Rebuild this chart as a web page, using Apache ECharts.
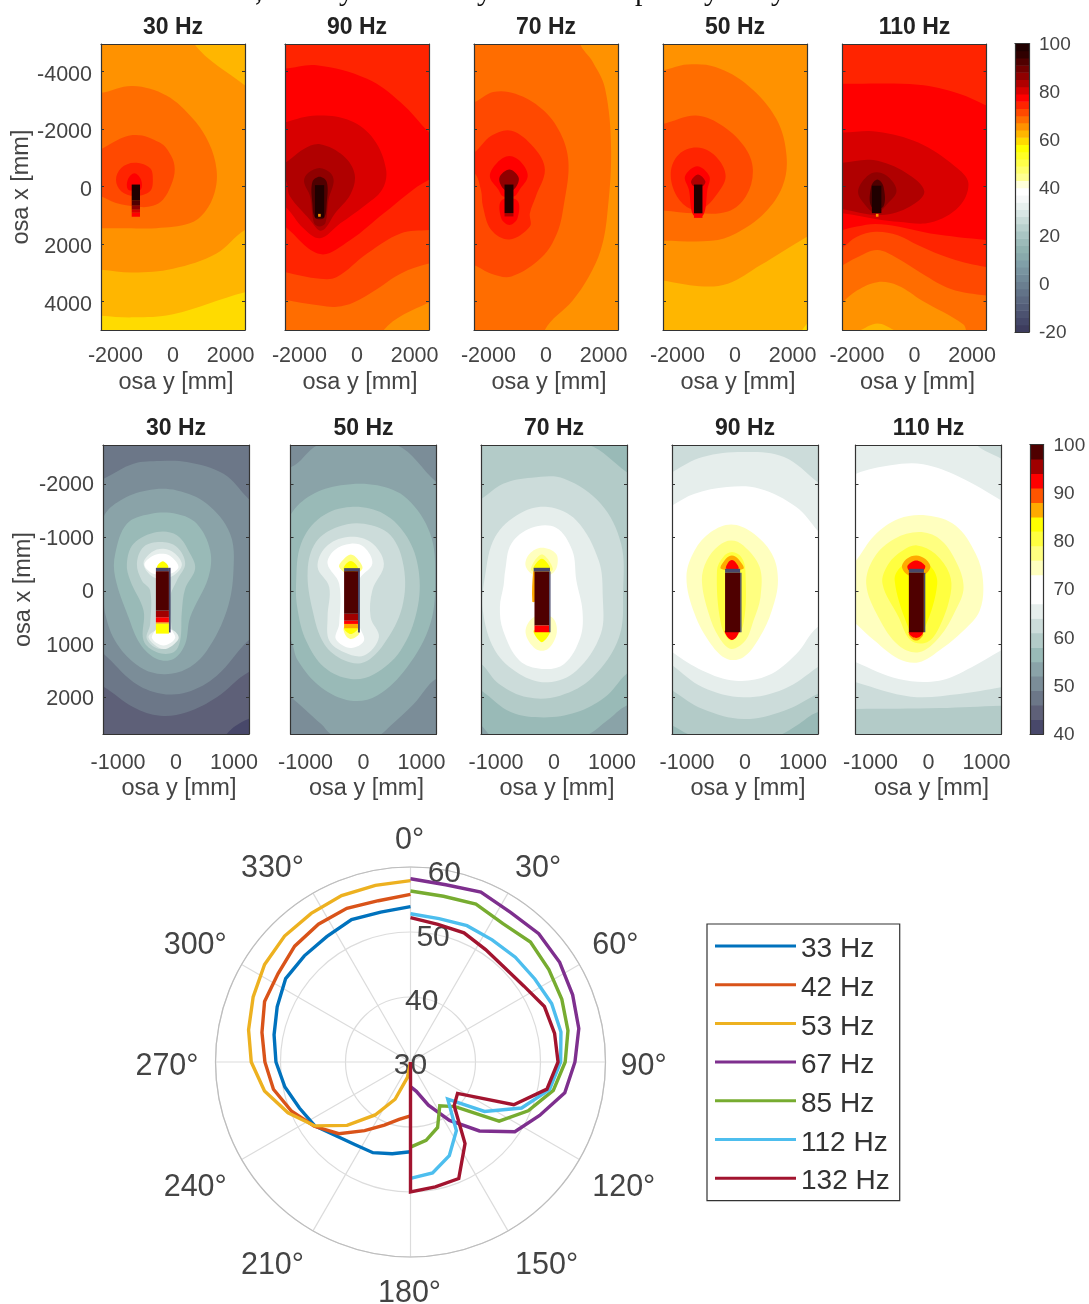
<!DOCTYPE html>
<html><head><meta charset="utf-8">
<script src="https://cdn.jsdelivr.net/npm/echarts@6/dist/echarts.min.js"></script>
<style>html,body{margin:0;padding:0;background:#fff}#c{width:1089px;height:1304px;filter:blur(0.45px)}</style>
</head><body><div id="c"></div>
<script>
// ---------- colour bar levels ----------
const topLevels = [-20,-17,-14,-11,-8,-5,-2,1,4,7,10,13,16,19,22,25,28,31,34,37,40,43,46,49,52,55,58,61,64,67,70,73,76,79,82,85,88,91,94,97];
const bottomLevels = [40,43,46,49,52,55,58,61,64,67,70,73,76,79,82,85,88,91,94,97];
const topPalette = ['#3d3c5e','#444768','#4c5270','#535d78','#5b6880','#627388','#6a7e90','#718998','#7994a0','#809fa8','#88a9ab','#90b2b0','#9cbbb9','#a9c5c3','#b8d0cd','#c8dbd8','#d8e6e4','#e8f0ee','#f6f8f8','#ffffff','#ffffdb','#ffff92','#ffff6d','#ffff49','#ffff24','#ffff00','#ffdb00','#ffb600','#ff9200','#ff6d00','#ff4900','#ff2400','#ff0000','#d80000','#b00000','#900000','#700000','#500000','#300000','#200000'];
const bottomPalette = ['#48486a','#5e6078','#6c7788','#7b8d98','#8aa3a8','#99bab7','#b3cbc8','#ccdcda','#e6eeec','#ffffff','#ffffff','#ffffbf','#ffff80','#ffff40','#ffff00','#ffaa00','#ff5500','#ff0000','#a00000','#4f0000'];

// ---------- tick labels ----------
const topYTicks = [-4000,-2000,0,2000,4000];
const topXTicks = [-2000,0,2000];
const bottomYTicks = [-2000,-1000,0,1000,2000];
const bottomXTicks = [-1000,0,1000];

// ---------- top row: level contours [level, x mm, y mm, x mm, y mm ...] ----------
const top30Base = 58;
const top30Contours = [
 [61,-3000,-6000,3000,-6000,3000,3685,2500,3685,0,4450,-1400,4560,-2500,4500,-3000,4450],
 [64,-3000,-6000,700,-6000,700,-5000,2500,-3510,3000,-3200,3000,1520,2500,1520,1510,2340,0,2870,-1400,3000,-2500,2900,-3000,2900],
 [67,-2500,-3250,-1400,-3490,-230,-3160,700,-2340,1250,-1500,1510,-600,1450,200,1100,900,580,1290,-580,1460,-1630,1460,-2500,1460,-3000,1460,-3000,-3250],
 [70,-2500,-1290,-1400,-1780,-460,-1520,-60,-1050,60,-585,-60,-50,-350,470,-700,680,-1160,720,-1980,585,-2500,350,-3000,200,-3000,-1000],
 [73,-1980,-230,-1800,-640,-1340,-820,-800,-640,-700,-230,-800,170,-1340,340,-1800,170],
 [76,-1570,-230,-1340,-450,-1110,-230,-1110,100,-1340,150,-1570,100]
];
const top30Bar = [[76,-1434,-1146,920,1060],[79,-1434,-1146,815,920],[85,-1434,-1146,675,815],[91,-1434,-1146,500,675],[97,-1434,-1146,-60,500]];

const top90Base = 64;
const top90Contours = [
 [67,-3000,-6000,3000,-6000,3000,4040,2500,4040,930,5000,930,6000,-3000,6000],
 [70,-3000,-6000,3000,-6000,3000,2690,2500,2690,1510,3040,700,3570,-120,4040,-700,4190,-1280,4150,-2500,3950,-3000,3800],
 [73,-3000,-6000,3000,-6000,3000,1500,2500,1520,1510,1640,350,2340,-700,3160,-1280,3220,-2500,2980,-3000,2800],
 [76,-3000,-4100,-2500,-4095,-1400,-4210,350,-3740,1510,-2925,2500,-1870,3000,-1400,3000,-100,2500,-230,930,940,-230,1870,-1280,2360,-2500,1400,-3000,1000],
 [79,-2500,-2220,-1400,-2460,-230,-2280,580,-1640,1010,-585,870,120,230,700,-580,1290,-1280,1810,-1860,1460,-2500,700,-3000,500,-3000,-2000],
 [82,-2500,-820,-1860,-1290,-1280,-1460,-465,-1050,-80,-410,-230,290,-760,940,-1100,1460,-1300,1540,-1630,1170,-2330,350,-2500,-230,-3000,-200,-3000,-700],
 [85,-1840,-175,-1690,-470,-1300,-640,-930,-470,-810,-175,-990,470,-1100,1290,-1300,1400,-1490,1290,-1630,350],
 [91,-1550,-150,-1300,-330,-1050,-150,-1050,600,-1150,1100,-1450,1100,-1550,600]
];
const top90Bar = [[97,-1460,-1140,-40,1090],[64,-1350,-1260,960,1060]];

const top70Base = 64;
const top70Contours = [
 [67,-3000,-6000,1170,-6000,1170,-5000,1620,-4330,2050,-3400,2260,-1290,2120,1050,1900,2220,1480,3160,920,3980,-40,5000,-100,6000,-3000,6000],
 [70,-2500,-2925,-1835,-3280,-1060,-3220,-140,-2690,490,-1870,780,-820,610,700,380,1640,-140,2460,-1200,3135,-1900,3040,-2500,2750,-3000,2700,-3000,-2900],
 [73,-2500,-1170,-1900,-1755,-1200,-1930,-420,-1345,-40,-585,-350,350,-560,940,-560,1400,-1270,1850,-1900,1520,-2190,700,-2260,120,-2500,-470,-3000,-500,-3000,-1000],
 [76,-1950,-350,-1695,-820,-1270,-1050,-850,-820,-635,-350,-920,120,-1100,350,-1500,350,-1650,120],
 [76,-1555,1110,-1270,1345,-990,1110,-990,500,-1555,500],
 [85,-1620,-290,-1270,-585,-945,-290,-1130,120,-1440,120]
];
const top70Bar = [[82,-1440,-1130,935,1050],[97,-1440,-1130,-60,935]];

const top50Base = 61;
const top50Contours = [
 [58,2300,5100,2600,4700,2600,5100],
 [64,-3000,-6000,3000,-6000,3000,1500,2500,1755,875,2750,-250,3390,-1240,3475,-2500,3280,-3000,3200],
 [67,-2500,-4035,-1665,-4235,-680,-4150,450,-3510,1440,-2340,1790,-1050,1650,0,1015,940,30,1640,-820,1895,-2500,1895,-3000,1900,-3000,-4000],
 [70,-2500,-2165,-1380,-2460,-535,-2165,310,-1400,620,-585,380,350,-250,880,-1380,940,-2500,840,-3000,800,-3000,-2100],
 [73,-2230,-470,-1950,-1110,-1310,-1345,-680,-1050,-325,-350,-680,350,-1100,760,-1525,800,-2020,350],
 [76,-1735,-350,-1310,-700,-890,-350,-960,120,-1100,1000,-1450,1000,-1600,120],
 [82,-1525,-175,-1285,-410,-1030,-175,-1130,0,-1430,0]
];
const top50Bar = [[76,-1425,-1130,940,1100],[97,-1425,-1130,-60,940]];

const top110Base = 64;
const top110Contours = [
 [61,-2000,5100,-1860,5000,-1290,4770,-720,5000,-700,5100],
 [67,-3000,-6000,3000,-6000,3000,5200,1900,5200,1690,4800,270,3980,-580,3450,-1290,3335,-2000,3630,-2500,4040,-3000,4500],
 [70,-3000,-6000,3000,-6000,3000,3800,2500,3800,1260,3570,270,3040,-580,2515,-1290,2220,-2000,2480,-2500,2750,-3000,3000],
 [73,-3000,-6000,3000,-6000,3000,2800,2500,2810,1260,2515,130,2050,-580,1700,-1360,1580,-2000,1755,-2500,2130,-3000,2400],
 [76,-3000,-3600,-2500,-3570,130,-3530,1550,-3220,2500,-2810,3000,-2600,3000,1900,2500,1870,550,1640,-580,1400,-1360,1310,-2000,1400,-2500,1520,-3000,1700],
 [79,-3000,-1900,-2500,-1870,-1290,-1900,130,-1520,1400,-700,1870,-120,1550,700,550,1260,-580,1230,-1150,1170,-2500,940,-3000,900],
 [82,-3000,-800,-2500,-820,-1430,-910,-300,-470,340,175,-155,700,-1150,1000,-2500,800,-3000,700],
 [85,-1960,175,-1650,-350,-1290,-490,-870,-290,-625,175,-940,610,-1320,940,-1720,640],
 [91,-1500,0,-1290,-235,-1080,0,-1080,700,-1500,700]
];
const top110Bar = [[97,-1480,-1150,-20,935],[64,-1340,-1250,960,1060]];

// ---------- bottom row ----------
const bottom30Base = 40;
const bottom30Contours = [
 [43,-1500,-3000,1500,-3000,1500,2400,1250,2400,877,2680,800,3000,-1500,3000],
 [46,-1500,-3000,1500,-3000,1500,1525,1250,1525,704,1994,187,2275,-273,2340,-733,2180,-1250,1794,-1500,1700],
 [49,-1250,-2100,-733,-2380,-273,-2430,187,-2410,820,-2190,1250,-1725,1500,-1500,1500,800,1250,930,704,1590,187,1900,-273,1920,-733,1710,-1250,1180,-1500,1000,-1500,-2000],
 [52,-1250,-1380,-963,-1690,-503,-1880,15,-1880,532,-1630,934,-1070,992,-380,877,370,532,1120,187,1460,-215,1560,-618,1430,-1020,990,-1222,430,-1250,-100,-1350,-600],
 [55,-1050,-690,-848,-1256,-446,-1440,15,-1440,360,-1256,590,-756,560,-256,244,494,158,994,-43,1275,-330,1275,-618,994,-820,494,-1050,-256],
 [58,-848,-506,-733,-880,-330,-1100,15,-1040,244,-694,330,-412,158,-37,100,400,72,931,-43,1150,-330,1150,-560,931,-560,369,-790,-194],
 [61,-675,-506,-560,-820,-273,-912,15,-820,158,-506,15,-194,-100,119,-72,680,15,931,-273,1090,-503,900,-446,620,-446,-6,-590,-194],
 [64,-560,-506,-417,-725,-215,-788,-14,-694,100,-475,-100,-256,-388,-256],
 [64,-475,869,-273,712,-43,744,43,900,-215,1090],
 [67,-546,-494,-388,-662,-215,-694,-72,-631,43,-444,-100,-319,-388,-319],
 [67,-417,869,-215,640,-14,869,-215,1025],
 [82,-330,-444,-227,-556,-130,-444,-227,-380]
];
const bottom30Bar = [[40,-347,-122,-431,-368],[82,-347,-122,613,801],[85,-347,-122,589,613],[91,-347,-122,495,589],[94,-347,-122,370,495],[97,-347,-122,-368,370],[40,-122,-93,-431,780]];

const bottom50Base = 49;
const bottom50Contours = [
 [52,-1250,-2320,-735,-2750,523,-2750,1250,-2040,1500,-1800,1500,1700,1250,1650,867,2120,466,2525,237,2710,-506,2710,-735,2490,-1250,1990,-1500,1800,-1500,-2500],
 [55,-1250,-1440,-907,-1790,-392,-1975,237,-1975,752,-1725,1152,-1070,1238,-256,1152,620,752,1430,237,1960,-220,2056,-735,1805,-1135,1300,-1250,930,-1500,500,-1500,-800],
 [58,-1164,-130,-1078,-880,-735,-1380,-220,-1570,352,-1440,752,-1006,952,-380,923,370,638,1120,180,1560,-220,1650,-678,1430,-992,930,-1135,370],
 [61,-964,-380,-820,-912,-449,-1194,9,-1256,466,-1040,695,-444,667,306,352,994,9,1337,-335,1300,-678,994,-878,370],
 [64,-792,-444,-650,-820,-278,-1006,123,-912,352,-506,152,-6,123,494,266,869,9,1212,-335,1150,-592,930,-620,494,-592,-70],
 [67,-620,-506,-506,-756,-220,-881,9,-819,152,-506,-77,-194,-77,619,9,931,-220,1069,-477,900,-420,619,-420,-131],
 [76,-420,-444,-335,-600,-220,-681,-106,-600,-20,-412,-220,-300],
 [76,-335,681,-106,681,-77,806,-220,900,-306,837],
 [82,-345,-420,-220,-560,-95,-420,-220,-340],
 [82,-335,700,-95,700,-220,810]
];
const bottom50Bar = [[40,-335,-95,-425,-368],[85,-335,-95,620,700],[91,-335,-95,560,620],[94,-335,-95,430,560],[97,-335,-95,-368,430],[40,-95,-62,-425,780]];

const bottom70Base = 52;
const bottom70Contours = [
 [55,-1500,-3000,1500,-3000,1500,2150,1250,2150,913,2430,491,2720,-1050,2720,-1250,2525,-1500,2300],
 [58,-1500,-2900,-1158,-2750,526,-2750,1250,-2225,1500,-2000,1500,1400,1250,1556,877,1994,386,2275,-175,2370,-737,2275,-1250,1869,-1500,1700],
 [61,-1250,-1725,-878,-2006,-386,-2119,175,-2100,807,-1631,1158,-881,1193,-6,1123,869,667,1619,105,1962,-456,1994,-948,1744,-1250,1369,-1500,1200,-1500,-1600],
 [64,-1193,-256,-1018,-1006,-597,-1444,-105,-1569,386,-1319,772,-569,842,119,807,806,386,1494,-105,1712,-597,1556,-1018,1119,-1228,369],
 [70,-842,-381,-737,-881,-386,-1181,35,-1181,316,-756,386,-194,491,369,456,869,175,1369,-210,1462,-597,1306,-878,744,-934,306,-870,-100],
 [73,-491,-475,-421,-694,-210,-806,35,-694,49,-444,-70,-300,-351,-300],
 [73,-491,775,-351,494,-35,494,49,775,-105,1087,-316,1087],
 [76,-400,-400,-210,-680,-20,-400,-210,-340],
 [82,-351,-412,-210,-600,-70,-412],
 [82,-351,744,-70,744,-210,962],
 [85,-360,-360,-375,200,-330,200,-330,-360]
];
const bottom70Bar = [[40,-351,-70,-431,-362],[97,-337,-84,-362,650],[91,-337,-84,650,775],[40,-84,-60,-362,775]];

const bottom90Base = 55;
const bottom90Contours = [
 [58,-1500,-3000,1500,-3000,1500,2300,1250,2275,885,2525,534,2712,-870,2712,-1250,2525,-1500,2400],
 [61,-1500,-3000,1500,-3000,1500,1800,1250,1931,674,2244,-28,2400,-730,2212,-1250,1869,-1500,1700],
 [64,-1250,-2225,-730,-2506,-28,-2600,674,-2506,1250,-2037,1500,-1800,1500,1200,1250,1431,674,1837,-28,1994,-730,1806,-1250,1400,-1500,1200,-1500,-2000],
 [67,-1250,-1600,-870,-1819,-309,-1944,253,-1912,885,-1569,1250,-1131,1500,-800,1500,650,1250,681,885,1181,393,1587,-168,1681,-730,1494,-1250,1150,-1500,900,-1500,-1400],
 [73,-1011,-256,-870,-756,-590,-1100,-239,-1244,112,-1100,463,-694,569,-194,463,369,253,869,-28,1244,-309,1275,-590,994,-870,431],
 [76,-744,-194,-660,-569,-449,-850,-239,-944,-28,-850,253,-444,267,119,147,556,7,931,-239,1087,-449,869,-625,431],
 [79,-484,-381,-379,-631,-225,-725,-63,-631,7,-381,-28,619,-239,930,-414,619],
 [85,-414,-412,-330,-600,-225,-660,-120,-600,-28,-412],
 [91,-323,-412,-290,-530,-225,-575,-160,-530,-112,-412],
 [91,-344,744,-300,870,-225,919,-150,870,-112,744]
];
const bottom90Bar = [[40,-344,-84,-412,-337],[97,-344,-84,-337,775],[40,-84,-60,-337,775]];

const bottom110Base = 58;
const bottom110Contours = [
 [61,-1500,-3000,1500,-3000,1500,2150,1250,2150,186,2194,-1250,2212,-1500,2212],
 [64,-1500,-3000,815,-3000,815,-2750,1250,-2475,1500,-2300,1500,1750,1250,1806,536,1931,-304,1981,-1250,1712,-1500,1600],
 [67,-1250,-2194,-654,-2350,-94,-2369,536,-2131,1250,-1694,1500,-1500,1500,1000,1250,1119,745,1431,186,1681,-514,1650,-1250,1337,-1500,1200,-1500,-2000],
 [73,-1250,-569,-934,-1037,-514,-1350,-24,-1412,466,-1225,815,-694,941,-194,885,369,606,744,186,1119,-164,1337,-514,1275,-934,931,-1250,619,-1500,400,-1500,-300],
 [76,-1075,-131,-934,-631,-584,-975,-164,-1100,186,-975,466,-569,606,-69,466,369,186,869,-164,1150,-514,1025,-864,494],
 [79,-794,-131,-689,-506,-444,-756,-199,-850,116,-694,361,-319,382,56,186,681,-24,962,-304,931,-514,494],
 [82,-584,-194,-479,-444,-213,-569,46,-444,151,-131,-60,681,-234,837,-374,619],
 [85,-458,-444,-374,-600,-213,-662,-60,-600,32,-444,-94,-287,-339,-287],
 [85,-339,806,-280,900,-213,931,-150,900,-94,806],
 [91,-360,-475,-213,-569,-60,-475,-94,-380,-330,-380],
 [91,-339,775,-280,860,-213,881,-150,860,-94,775]
];
const bottom110Bar = [[40,-339,-80,-412,-337],[97,-339,-80,-337,775],[40,-80,-55,-337,775]];

// ---------- polar curves ----------
const rightAngles = [0,11.25,22.5,33.75,45,56.25,67.5,78.75,90,101.25,112.5,123.75,135,146.25,157.5,168.75,180];
const leftAngles = [180,191.25,202.5,213.75,225,236.25,247.5,258.75,270,281.25,292.5,303.75,315,326.25,337.5,348.75,360];
const curve33 = [43.8,44.4,45.1,45.3,46.1,47.7,48.5,49.7,50.7,51.4,52.2,53.1,53.1,53.2,53.7,53.5,53.9];
const curve42 = [38.3,39.0,40.5,42.7,45.6,47.8,49.8,51.5,52.4,53.3,54.3,54.5,55.2,55.5,55.6,55.3,55.8];
const curve53 = [30,32.4,36.2,39.8,43.8,47.7,50.4,52.9,54.5,55.4,56.2,57.0,57.4,57.5,57.7,57.7,57.9];
const curve67 = [58.2,57.8,58.3,57.7,57.9,57.6,57.0,56.4,55.3,54.2,51.5,49.3,45.0,40.8,37.2,34.6,33.8];
const curve85 = [56.3,56.0,56.3,55.6,56.1,55.6,55.2,54.7,53.8,52.4,49.6,46.4,39.7,38.1,40.9,42.3,43.1];
const curve112 = [52.8,52.5,52.7,52.6,52.8,53.0,53.5,53.6,53.1,51.8,48.5,43.7,38.1,42.7,45.6,47.4,47.9];
const curve132 = [52.2,51.6,51.5,50.8,50.5,51.0,52.3,52.6,52.7,51.4,47.2,38.7,39.5,45.1,49.4,49.6,50.0];
const curve132End = [30,180];
const legendNames = ['33 Hz','42 Hz','53 Hz','67 Hz','85 Hz','112 Hz','132 Hz'];
const lineColors = ['#0072bd','#d95319','#edb120','#7e2f8e','#77ac30','#4dbeee','#a2142f'];

// ---------- layout ----------
const FONT = 'Liberation Sans', TXT = '#444', FRAME = '#333';
const panels = [
 {t:'30 Hz',l:101,top:44,w:144,h:286,row:0,base:top30Base,c:top30Contours,b:top30Bar},
 {t:'90 Hz',l:285,top:44,w:144,h:286,row:0,base:top90Base,c:top90Contours,b:top90Bar},
 {t:'70 Hz',l:474,top:44,w:144,h:286,row:0,base:top70Base,c:top70Contours,b:top70Bar},
 {t:'50 Hz',l:663,top:44,w:144,h:286,row:0,base:top50Base,c:top50Contours,b:top50Bar},
 {t:'110 Hz',l:842.5,top:44,w:144,h:286,row:0,base:top110Base,c:top110Contours,b:top110Bar},
 {t:'30 Hz',l:103,top:445,w:146,h:289,row:1,base:bottom30Base,c:bottom30Contours,b:bottom30Bar},
 {t:'50 Hz',l:290.5,top:445,w:146,h:289,row:1,base:bottom50Base,c:bottom50Contours,b:bottom50Bar},
 {t:'70 Hz',l:481,top:445,w:146,h:289,row:1,base:bottom70Base,c:bottom70Contours,b:bottom70Bar},
 {t:'90 Hz',l:672,top:445,w:146,h:289,row:1,base:bottom90Base,c:bottom90Contours,b:bottom90Bar},
 {t:'110 Hz',l:855.5,top:445,w:146,h:289,row:1,base:bottom110Base,c:bottom110Contours,b:bottom110Bar}
];
const colorOf = (row,v)=> row===0 ? topPalette[Math.floor((v+20)/3)] : bottomPalette[Math.floor((v-40)/3)];
const plain = v => String(v);
const shifted = v => '{a|'+v+'}';

const grid=[],xAxis=[],yAxis=[],series=[],title=[];
panels.forEach((p,i)=>{
  const first = i===0||i===5;
  const xr = p.row===0?[-2500,2500]:[-1260,1260];
  const yr = p.row===0?[-4950,5000]:[-2730,2680];
  grid.push({left:p.l,top:p.top,width:p.w,height:p.h});
  title.push({text:p.t,left:p.l+p.w/2,top:p.row===0?16:417,textAlign:'center',padding:0,
    textStyle:{fontFamily:FONT,fontSize:23,fontWeight:'bold',color:'#222'}});
  const xt = p.row===0?topXTicks:bottomXTicks, yt = p.row===0?topYTicks:bottomYTicks;
  const line={show:true,onZero:false,lineStyle:{color:FRAME,width:1.2}};
  xAxis.push({type:'value',gridIndex:i,min:xr[0],max:xr[1],position:'bottom',z:10,axisLine:line,splitLine:{show:false},
    axisTick:{show:false},
    axisLabel:{show:true,customValues:xt,formatter:plain,margin:p.row===0?15:18,fontFamily:FONT,fontSize:21.5,color:TXT,showMinLabel:true,showMaxLabel:true},
    name:'osa y [mm]',nameLocation:'center',nameGap:p.row===0?41:43,nameTextStyle:{fontFamily:FONT,fontSize:23.5,color:TXT,padding:[0,0,0,6]}});
  xAxis.push({type:'value',gridIndex:i,min:xr[0],max:xr[1],position:'top',z:10,axisLine:line,splitLine:{show:false},axisTick:{show:false},axisLabel:{show:false}});
  yAxis.push({type:'value',gridIndex:i,min:yr[0],max:yr[1],inverse:true,position:'left',z:10,axisLine:line,splitLine:{show:false},
    axisTick:{show:true,inside:true,length:3,customValues:yt,lineStyle:{color:FRAME}},
    axisLabel:{show:first,customValues:yt,formatter:shifted,margin:9,
      rich:{a:{padding:[p.row===0?7:3,0,0,0],fontFamily:FONT,fontSize:21.5,color:TXT}}},
    name:first?'osa x [mm]':'',nameLocation:'center',nameRotate:90,nameGap:p.row===0?63:65,nameTextStyle:{fontFamily:FONT,fontSize:23.5,color:TXT}});
  yAxis.push({type:'value',gridIndex:i,min:yr[0],max:yr[1],inverse:true,position:'right',z:10,axisLine:line,splitLine:{show:false},
    axisTick:{show:true,inside:true,length:3,customValues:yt,lineStyle:{color:FRAME}},axisLabel:{show:false}});
  const xi=i*2,yi=i*2;
  series.push({type:'custom',xAxisIndex:xi,yAxisIndex:yi,clip:true,silent:true,z:2,data:[[p.base]],
    renderItem:(params,api)=>{
      const a=api.coord([xr[0],yr[0]]),b=api.coord([xr[1],yr[1]]);
      return {type:'rect',shape:{x:a[0],y:a[1],width:b[0]-a[0],height:b[1]-a[1]},style:{fill:colorOf(p.row,p.base)}};
    }});
  series.push({type:'custom',xAxisIndex:xi,yAxisIndex:yi,clip:true,silent:true,z:3,data:p.c.map((c,k)=>[c[0],k]),
    renderItem:(params,api)=>{
      const c=p.c[params.dataIndex],pts=[];
      for(let k=1;k<c.length;k+=2) pts.push(api.coord([c[k],c[k+1]]));
      return {type:'polygon',shape:{points:pts,smooth:0.36},style:{fill:colorOf(p.row,c[0])}};
    }});
  series.push({type:'custom',xAxisIndex:xi,yAxisIndex:yi,clip:true,silent:true,z:4,data:p.b.map((c,k)=>[c[0],k]),
    renderItem:(params,api)=>{
      const c=p.b[params.dataIndex];
      const a=api.coord([c[1],c[3]]),b=api.coord([c[2],c[4]]);
      return {type:'rect',shape:{x:a[0],y:a[1],width:b[0]-a[0],height:b[1]-a[1]},style:{fill:colorOf(p.row,c[0])}};
    }});
});

// colour bars
function addBar(g,levels,row,min,max,margin){
  const gi=grid.length;
  grid.push(g);
  const xi=xAxis.length, yi=yAxis.length;
  const line={show:true,onZero:false,lineStyle:{color:FRAME,width:1.2}};
  xAxis.push({type:'value',gridIndex:gi,min:0,max:1,position:'bottom',z:10,axisLine:line,splitLine:{show:false},axisTick:{show:false},axisLabel:{show:false}});
  xAxis.push({type:'value',gridIndex:gi,min:0,max:1,position:'top',z:10,axisLine:line,splitLine:{show:false},axisTick:{show:false},axisLabel:{show:false}});
  yAxis.push({type:'value',gridIndex:gi,min,max,position:'left',z:10,axisLine:line,splitLine:{show:false},axisTick:{show:false},axisLabel:{show:false}});
  yAxis.push({type:'value',gridIndex:gi,min,max,interval:row===0?20:10,position:'right',z:10,axisLine:line,splitLine:{show:false},axisTick:{show:false},
    axisLabel:{margin,formatter:shifted,showMinLabel:true,showMaxLabel:true,
      rich:{a:{padding:[2,0,0,0],fontFamily:FONT,fontSize:19,color:TXT}}}});
  series.push({type:'custom',xAxisIndex:xi,yAxisIndex:yi,clip:true,silent:true,z:3,data:levels.map(v=>[v]),
    renderItem:(params,api)=>{
      const v=levels[params.dataIndex];
      const a=api.coord([0,v+3]),b=api.coord([1,v]);
      return {type:'rect',shape:{x:a[0],y:a[1],width:b[0]-a[0],height:b[1]-a[1]+0.5},style:{fill:colorOf(row,v)}};
    }});
}
addBar({left:1015,top:43.5,width:14,height:288.5},topLevels,0,-20,100,10);
addBar({left:1030,top:444.5,width:13.5,height:289.5},bottomLevels,1,40,100,10);

// polar curves
const toLine=(vals,angs)=>vals.map((v,i)=>[v,angs[i]]);
const curves=[toLine(curve33,leftAngles),toLine(curve42,leftAngles),toLine(curve53,leftAngles),
  toLine(curve67,rightAngles),toLine(curve85,rightAngles),toLine(curve112,rightAngles),
  toLine(curve132,rightAngles).concat([curve132End])];
curves.forEach((d,i)=>series.push({type:'line',name:legendNames[i],coordinateSystem:'polar',polarIndex:0,data:d,
  showSymbol:false,symbol:'none',smooth:false,clip:false,z:6,color:lineColors[i],lineStyle:{width:3.4,color:lineColors[i],join:'miter'},silent:true}));

const option={
  animation:false,backgroundColor:'#fff',title,grid,xAxis,yAxis,series,
  polar:[{center:[410.5,1062],radius:195},{center:[410.5,1066],radius:195},{center:[409.5,1067],radius:195}],
  angleAxis:[
   {polarIndex:0,type:'value',min:0,max:360,interval:30,startAngle:90,clockwise:true,
    axisLine:{show:true,lineStyle:{color:'#bdbdbd',width:1.2}},axisTick:{show:false},
    splitLine:{show:true,lineStyle:{color:'#dcdcdc',width:1.2}},axisLabel:{show:false}},
   {polarIndex:1,type:'value',min:0,max:360,startAngle:80,clockwise:true,show:false},
   {polarIndex:2,type:'value',min:0,max:360,interval:30,startAngle:90,clockwise:true,
    axisLine:{show:false},axisTick:{show:false},splitLine:{show:false},
    axisLabel:{formatter:'{value}°',margin:16,fontFamily:FONT,fontSize:30.5,color:TXT}}
  ],
  radiusAxis:[
   {polarIndex:0,min:30,max:60,interval:10,axisLine:{show:false},axisTick:{show:false},axisLabel:{show:false},
    splitLine:{show:true,lineStyle:{color:'#dcdcdc',width:1.2}}},
   {polarIndex:1,min:30,max:60,interval:10,axisLine:{show:false},axisTick:{show:false},splitLine:{show:false},
    axisLabel:{margin:0,align:'center',verticalAlign:'middle',fontFamily:FONT,fontSize:30,color:TXT,showMinLabel:true,showMaxLabel:true}},
   {polarIndex:2,min:30,max:60,show:false}
  ],
  legend:{data:legendNames,orient:'vertical',left:707,top:924,padding:[4.5,10,5,8],itemGap:3.7,
    itemWidth:81,itemHeight:3,icon:'rect',backgroundColor:'#fff',borderColor:FRAME,borderWidth:1.2,
    formatter:n=>'{a|'+n+'}',
    textStyle:{rich:{a:{fontFamily:FONT,fontSize:28,color:'#333',padding:[7,0,0,0],lineHeight:28}}},selectedMode:false},
  graphic:[
   ...[[262,','],[346,'y'],[484,'y'],[642,'p'],[711,'y'],[778,'y']].map(g=>({type:'text',left:g[0]-7,top:-23,silent:true,
     style:{text:g[1],font:'30px "Liberation Serif"',fill:'#111'}}))
  ]
};
echarts.init(document.getElementById('c'),null,{renderer:'canvas'}).setOption(option);
</script></body></html>
